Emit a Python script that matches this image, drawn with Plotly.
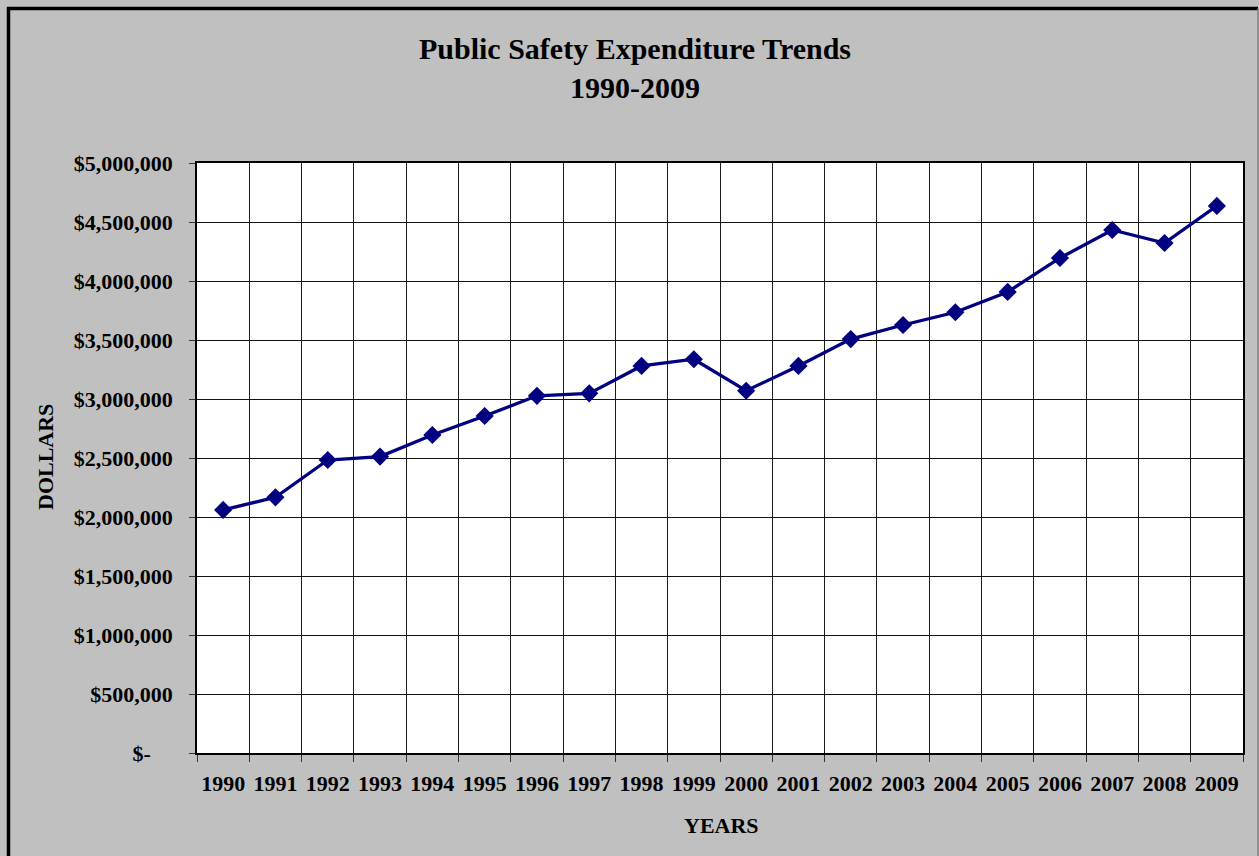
import plotly.graph_objects as go

years = [str(y) for y in range(1990, 2010)]
expenditure = [2060000, 2167000, 2483000, 2512000, 2695000, 2856000, 3027000,
               3048000, 3280000, 3337000, 3070000, 3280000, 3508000, 3627000,
               3735000, 3907000, 4195000, 4432000, 4322000, 4636000]
y_tick_vals = [0, 500000, 1000000, 1500000, 2000000, 2500000, 3000000,
               3500000, 4000000, 4500000, 5000000]
y_tick_text = ["$-" + "\u00a0" * 4, "$500,000", "$1,000,000", "$1,500,000",
               "$2,000,000", "$2,500,000", "$3,000,000", "$3,500,000",
               "$4,000,000", "$4,500,000", "$5,000,000"]

W, H = 1259, 856
L, R, T, B = 197, 16, 163, 103
pw, ph = W - L - R, H - T - B

def px(x):
    return (x - L) / pw

def py(y):
    return (H - B - y) / ph

FONT = "Liberation Serif, Times New Roman, serif"

fig = go.Figure()
fig.add_trace(go.Scatter(
    x=years, y=expenditure, mode="lines+markers",
    line=dict(color="#000080", width=3.3),
    marker=dict(symbol="diamond", size=14, color="#000080"),
    showlegend=False, cliponaxis=False,
))

fig.update_layout(
    width=W, height=H,
    margin=dict(l=L, r=R, t=T, b=B, pad=0),
    paper_bgcolor="#C0C0C0", plot_bgcolor="#FFFFFF",
    font=dict(family=FONT, color="#000000", size=22),
    xaxis=dict(
        type="category", tickson="boundaries", tickangle=0,
        range=[-0.5, len(years) - 0.5], autorange=False,
        showgrid=True, gridcolor="#1a1a1a", gridwidth=1,
        showline=True, linecolor="#000000", linewidth=1.5, mirror=True,
        ticks="outside", ticklen=7, tickcolor="#333333", tickwidth=1,
        tickfont=dict(family=FONT, size=22, color="#000000", weight="bold"),
        ticklabelstandoff=10,
    ),
    yaxis=dict(
        range=[0, 5000000], tickvals=y_tick_vals, ticktext=y_tick_text,
        showgrid=True, gridcolor="#111111", gridwidth=1,
        showline=True, linecolor="#000000", linewidth=1.5, mirror=True,
        ticks="outside", ticklen=6, tickcolor="#333333", tickwidth=1,
        tickfont=dict(family=FONT, size=22, color="#000000", weight="bold"),
        ticklabelstandoff=12, zeroline=False,
    ),
    annotations=[
        dict(text="<b>Public Safety Expenditure Trends<br>1990-2009</b>",
             xref="paper", yref="paper", x=px(635), y=py(68),
             xanchor="center", yanchor="middle", showarrow=False,
             font=dict(family=FONT, size=30, color="#000000")),
        dict(text="<b>DOLLARS</b>", xref="paper", yref="paper",
             x=px(45), y=py(457), xanchor="center", yanchor="middle",
             textangle=-90, showarrow=False,
             font=dict(family=FONT, size=22, color="#000000")),
        dict(text="<b>YEARS</b>", xref="paper", yref="paper",
             x=px(721), y=py(825), xanchor="center", yanchor="middle",
             showarrow=False,
             font=dict(family=FONT, size=22, color="#000000")),
    ],
    shapes=[
        dict(type="line", xref="paper", yref="paper",
             x0=px(8.5), x1=px(8.5), y0=py(7), y1=py(H + 5),
             line=dict(color="#000000", width=3.5)),
        dict(type="line", xref="paper", yref="paper",
             x0=px(7), x1=px(1258), y0=py(8.5), y1=py(8.5),
             line=dict(color="#000000", width=3.5)),
        dict(type="line", xref="paper", yref="paper",
             x0=px(1258), x1=px(1258), y0=py(8.5), y1=py(H + 5),
             line=dict(color="#808080", width=1.5)),
    ],
)

fig.write_html("out.html", config={"displayModeBar": False})

with open("out.html", encoding="utf-8") as f:
    html = f.read()
html = html.replace("<body>", '<body style="margin:0;overflow:hidden">', 1)
with open("out.html", "w", encoding="utf-8") as f:
    f.write(html)
